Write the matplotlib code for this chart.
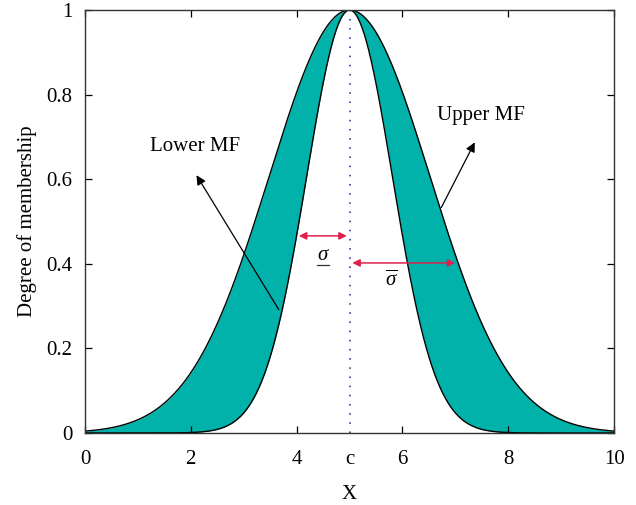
"""
Interval type-2 Gaussian membership function (lower and upper MF)
"""
import numpy as np
import matplotlib
matplotlib.use("Agg")
import matplotlib.pyplot as plt

# data
center = 5.0
sigma_lower = 0.81
sigma_upper = 1.52
x_ticks = [0, 2, 4, 6, 8, 10]
y_ticks = [0, 0.2, 0.4, 0.6, 0.8, 1]
y_tick_labels = ["0", "0.2", "0.4", "0.6", "0.8", "1"]

fill_color = "#00b2a9"
arrow_red = "#e0204c"
fs = 15

plt.rcParams["font.family"] = ["Liberation Serif", "DejaVu Serif"]
plt.rcParams["mathtext.fontset"] = "custom"
plt.rcParams["mathtext.rm"] = "Liberation Serif"
plt.rcParams["mathtext.it"] = "Liberation Serif:italic"


def gauss(x, c, s):
    return np.exp(-(x - c) ** 2 / (2 * s ** 2))


fig = plt.figure(figsize=(6.36, 5.05), dpi=100)
ax = fig.add_axes([0.1336, 0.1426, 0.832, 0.8376])

x = np.linspace(0, 10, 1001)
lower = gauss(x, center, sigma_lower)
upper = gauss(x, center, sigma_upper)

ax.fill_between(x, lower, upper, color=fill_color, linewidth=0)
ax.plot(x, upper, color="black", linewidth=1.0)
ax.plot(x, lower, color="black", linewidth=1.0)
ax.plot([center, center], [0, 1], linestyle=(0, (1, 5)), color="#23238f",
        linewidth=1.1)

ax.set_xlim(0, 10)
ax.set_ylim(0, 1)
ax.set_xticks(x_ticks)
ax.set_xticks([center], labels=["c"], minor=True)
ax.set_yticks(y_ticks)
ax.set_yticklabels(y_tick_labels)
ax.tick_params(which="major", direction="in", top=True, right=True,
               labelsize=fs, length=5, width=0.9, pad=9)
ax.tick_params(axis="x", which="major", pad=12)
ax.tick_params(axis="x", which="minor", length=0, labelsize=fs, pad=12)
for sp in ax.spines.values():
    sp.set_linewidth(1.0)
    sp.set_color("#333333")

ax.set_xlabel("X", fontsize=fs, labelpad=12)
ax.set_ylabel("Degree of membership", fontsize=fs, labelpad=7)

# Lower / Upper MF labels with black arrows
ax.annotate("", xy=(2.08, 0.615), xytext=(3.69, 0.286),
            arrowprops=dict(arrowstyle="-|>", color="black", lw=0.9,
                            mutation_scale=14))
ax.text(2.09, 0.655, "Lower MF", ha="center", va="bottom", fontsize=fs)
ax.annotate("", xy=(7.39, 0.693), xytext=(6.71, 0.527),
            arrowprops=dict(arrowstyle="-|>", color="black", lw=0.9,
                            mutation_scale=14))
ax.text(7.49, 0.728, "Upper MF", ha="center", va="bottom", fontsize=fs)

# sigma arrows
ax.annotate("", xy=(3.99, 0.466), xytext=(center, 0.466),
            arrowprops=dict(arrowstyle="<|-|>", color=arrow_red, lw=1.1,
                            mutation_scale=11))
ax.annotate("", xy=(center, 0.402), xytext=(7.05, 0.402),
            arrowprops=dict(arrowstyle="<|-|>", color=arrow_red, lw=1.1,
                            mutation_scale=11))
ax.text(4.5, 0.42, "$\\sigma$", ha="center", va="center", fontsize=fs)
ax.plot([4.39, 4.61], [0.396, 0.396], color="#333333", linewidth=0.9)
ax.text(5.8, 0.36, "$\\overline{\\sigma}$", ha="center", va="center",
        fontsize=fs)

fig.savefig("out.png", dpi=100)
